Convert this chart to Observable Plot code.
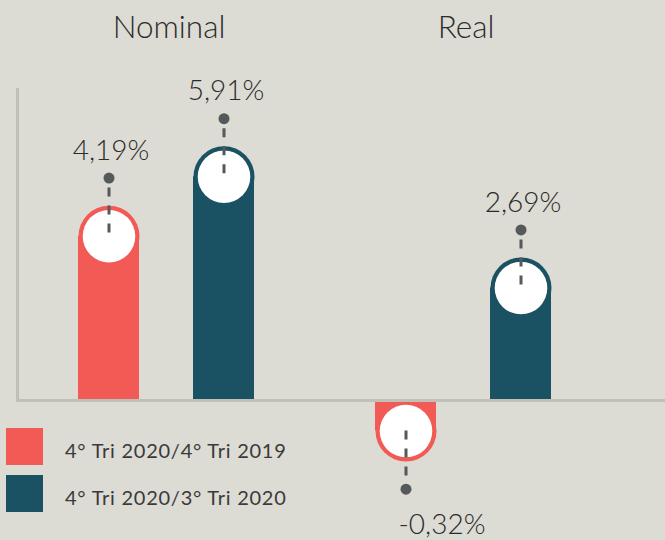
<!DOCTYPE html>
<html>
<head>
<meta charset="utf-8">
<script src="https://cdn.jsdelivr.net/npm/d3@7"></script>
<script src="https://cdn.jsdelivr.net/npm/@observablehq/plot@0.6"></script>
<style>
  html, body { margin: 0; padding: 0; background: #dcdbd4; }
  #wrap { position: relative; width: 665px; height: 540px; overflow: hidden; background: #dcdbd4; font-family: Lato, "Open Sans", sans-serif; }
  #legend { position: absolute; left: 6px; top: 428px; }
  .item { display: flex; align-items: center; height: 37px; margin-bottom: 10px; }
  .sw { width: 37px; height: 37px; flex: none; }
  .lab { margin-left: 22px; font-size: 20px; color: #3a3a3a; letter-spacing: 0.75px; padding-top: 6px; font-weight: 400; }
</style>
</head>
<body>
<div id="wrap"><div id="chart"></div><div id="legend"></div></div>
<script>
// ---- data ----
const groups = ["Nominal", "Real"];
const series = ["4° Tri 2020/4° Tri 2019", "4° Tri 2020/3° Tri 2020"];
const colors = ["#f25a55", "#1b5263"];
const rowGroup = ["Nominal", "Nominal", "Real", "Real"];
const rowSeries = [series[0], series[1], series[0], series[1]];
const values = [4.19, 5.91, -0.32, 2.69];

const data = values.map((v, i) => ({group: rowGroup[i], series: rowSeries[i], value: v}));
const fmt = d => d.value.toFixed(2).replace(".", ",") + "%";

// ---- style constants ----
const R = 30.5, RW = 26.3, EXT = 19.5, DOT = 77.6, GAP = 10;
const ink = "#55595b";

function pill(rows, s) {
  const up = s < 0;
  return [
    Plot.barY(rows, {fx: "group", x: "series", y1: 0, y2: "value", fill: "series",
      insetTop: up ? -EXT : 0, insetBottom: up ? 0 : -EXT}),
    Plot.dot(rows, {fx: "group", x: "series", y: "value", r: R, fill: "series", dy: s * EXT}),
    Plot.dot(rows, {fx: "group", x: "series", y: "value", r: RW, fill: "white", dy: s * EXT}),
    Plot.ruleX(rows, {fx: "group", x: "series", y1: "value", y2: "value", stroke: ink, strokeWidth: 3,
      strokeDasharray: up ? "9,9" : "9,9",
      insetTop: up ? -DOT + GAP : EXT, insetBottom: up ? EXT : -DOT + GAP}),
    Plot.dot(rows, {fx: "group", x: "series", y: "value", r: 5.5, fill: ink, dy: s * DOT}),
    Plot.text(rows, {fx: "group", x: "series", y: "value", text: fmt, lineAnchor: "bottom",
      dy: up ? -96 : 122, dx: up ? 2 : 36, fontSize: 28, fontWeight: 300, fill: "#2b2b2b"})
  ];
}

const pos = data.filter(d => d.value >= 0);
const neg = data.filter(d => d.value < 0);

const chart = Plot.plot({
  width: 665,
  height: 540,
  marginTop: 89,
  marginBottom: 140,
  marginLeft: 15,
  marginRight: 0,
  style: {background: "transparent", fontFamily: "Lato, 'Open Sans', sans-serif", overflow: "visible"},
  fx: {domain: groups, axis: null, paddingInner: 0, paddingOuter: 0.0924, align: 0.041},
  x: {domain: series, axis: null, paddingInner: 0.472, paddingOuter: 0.524},
  y: {domain: [0, 9], axis: null},
  color: {domain: series, range: colors},
  marks: [
    Plot.text(groups, {fx: d => d, text: d => d, frameAnchor: "top", lineAnchor: "bottom", dy: -52, dx: 3,
      fontSize: 31.5, fontWeight: 300, fill: "#2b2b2b"}),
    ...pill(pos, -1),
    ...pill(neg, 1),
    Plot.frame({anchor: "left", stroke: "#c0bfb8", strokeWidth: 3, facet: "super"}),
    Plot.frame({anchor: "bottom", stroke: "#c0bfb8", strokeWidth: 3, facet: "super", insetRight: -53})
  ]
});
document.getElementById("chart").appendChild(chart);

// ---- legend ----
const legend = document.getElementById("legend");
series.forEach((s, i) => {
  const item = document.createElement("div");
  item.className = "item";
  const sw = document.createElement("div");
  sw.className = "sw";
  sw.style.background = colors[i];
  const lab = document.createElement("div");
  lab.className = "lab";
  lab.textContent = s;
  item.appendChild(sw);
  item.appendChild(lab);
  legend.appendChild(item);
});
</script>
</body>
</html>
